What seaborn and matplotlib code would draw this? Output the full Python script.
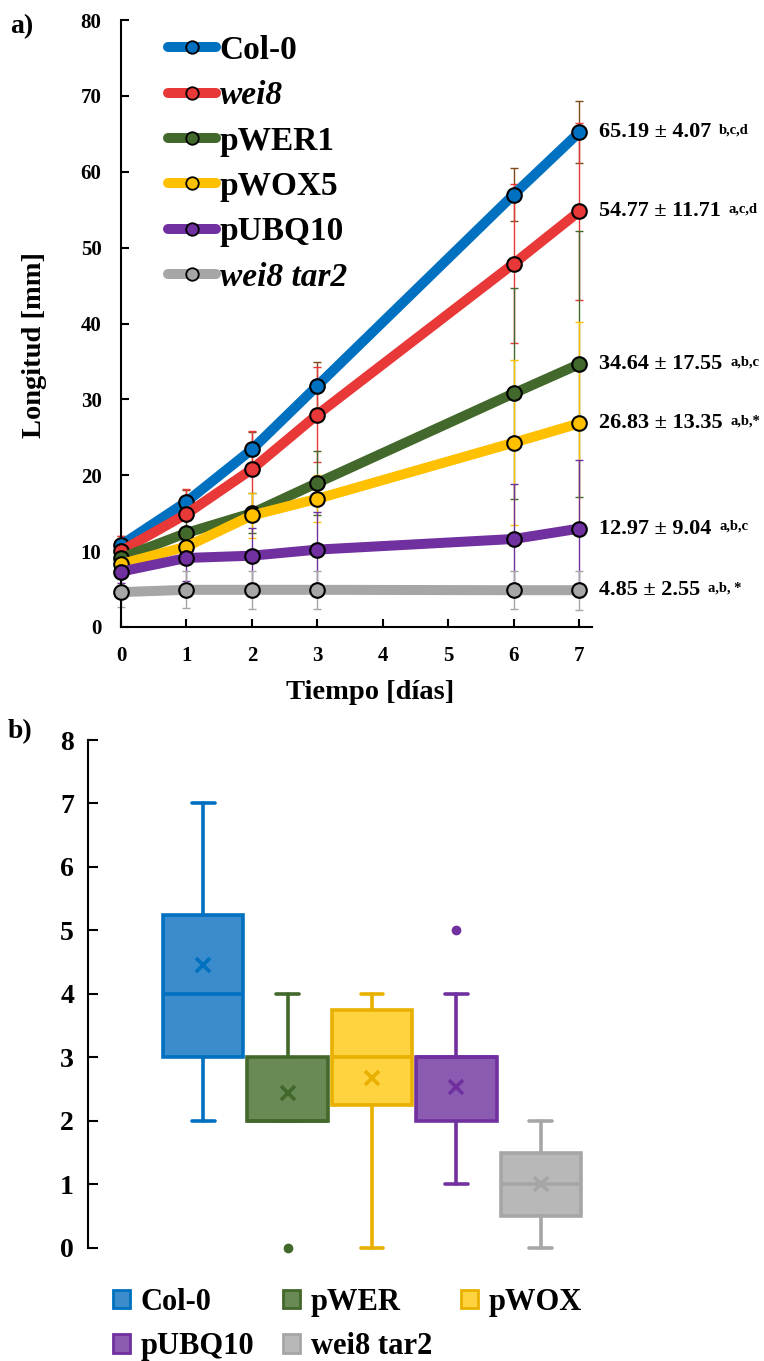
import matplotlib
matplotlib.use("Agg")
import matplotlib.pyplot as plt
from matplotlib.lines import Line2D
from matplotlib.patches import Patch
import seaborn as sns
import numpy as np

# ---- growth curves (mean ± SD of root length, mm) ----
days = [0, 1, 2, 3, 6, 7]
genotypes = ["Col-0", "wei8", "pWER1", "pWOX5", "pUBQ10", "wei8 tar2"]
col0_mean = [10.8, 16.5, 23.4, 31.8, 57.0, 65.19]
col0_sd = [1.2, 1.6, 2.3, 3.1, 3.5, 4.07]
wei8_mean = [10.0, 14.9, 20.8, 28.0, 47.9, 54.77]
wei8_sd = [2.0, 3.3, 5.0, 6.3, 10.5, 11.71]
pwer_mean = [9.1, 12.4, 15.0, 19.0, 30.8, 34.64]
pwer_sd = [1.3, 1.8, 2.6, 4.2, 13.9, 17.55]
pwox_mean = [8.3, 10.6, 14.7, 16.9, 24.3, 26.83]
pwox_sd = [1.2, 1.6, 3.0, 3.1, 10.9, 13.35]
pubq_mean = [7.3, 9.1, 9.4, 10.2, 11.6, 12.97]
pubq_sd = [1.5, 3.0, 3.6, 4.9, 7.3, 9.04]
tar2_mean = [4.6, 4.9, 4.9, 4.9, 4.85, 4.85]
tar2_sd = [1.9, 2.45, 2.5, 2.5, 2.5, 2.55]
signif = ["b,c,d", "a,c,d", "a,b,c", "a,b,*", "a,b,c", "a,b, *"]

# ---- box plot summary (lateral roots per seedling) ----
box_labels = ["Col-0", "pWER", "pWOX", "pUBQ10", "wei8 tar2"]
box_whislo = [2, 2, 0, 1, 0]
box_q1 = [3, 2, 2.25, 2, 0.5]
box_med = [4, 2, 3, 3, 1]
box_q3 = [5.25, 3, 3.75, 3, 1.5]
box_whishi = [7, 4, 4, 4, 2]
box_mean = [4.45, 2.43, 2.67, 2.53, 1.0]
box_fliers = [[], [0], [], [5], []]

means = [col0_mean, wei8_mean, pwer_mean, pwox_mean, pubq_mean, tar2_mean]
sds = [col0_sd, wei8_sd, pwer_sd, pwox_sd, pubq_sd, tar2_sd]
line_colors = ["#0070C0", "#E83838", "#43682B", "#FFC000", "#7030A0", "#A6A6A6"]
err_colors = ["#7F4A1A", "#E83838", "#43682B", "#FFC000", "#7030A0", "#A6A6A6"]
box_face = ["#3A8CCD", "#6A8A55", "#FFD23F", "#8B5BB1", "#B8B8B8"]
box_edge = ["#0070C0", "#43682B", "#E8B000", "#7030A0", "#A6A6A6"]

sns.set_theme(style="white")
plt.rcParams["font.family"] = ["Liberation Serif", "DejaVu Serif"]
plt.rcParams["font.weight"] = "bold"
plt.rcParams["axes.labelweight"] = "bold"
plt.rcParams["text.color"] = "black"
plt.rcParams["axes.labelcolor"] = "black"
plt.rcParams["xtick.color"] = "black"
plt.rcParams["ytick.color"] = "black"

W, H = 764, 1361
fig = plt.figure(figsize=(W / 100, H / 100), dpi=100)
fig.patch.set_facecolor("white")

# ================= a) growth curves =================
ax1 = fig.add_axes([121 / W, 1 - 627 / H, (591.7 - 121) / W, (627 - 20) / H])
for m, s, ec in zip(means, sds, err_colors):
    ax1.errorbar(days, m, yerr=s, fmt="none", ecolor=ec, elinewidth=1.0,
                 capsize=2.6, capthick=1.0, zorder=1, clip_on=False)
for k, (m, c) in enumerate(zip(means, line_colors)):
    sns.lineplot(x=days, y=m, ax=ax1, color=c, linewidth=7.2, marker="o",
                 markersize=10.5, markerfacecolor=c, markeredgecolor="black",
                 markeredgewidth=1.5, clip_on=False, zorder=3 + k,
                 solid_capstyle="butt", legend=False)

ax1.set_xlim(0, 7.19)
ax1.set_ylim(0, 80)
ax1.set_xticks(range(8))
ax1.set_yticks(range(0, 81, 10))
for sp in ["top", "right"]:
    ax1.spines[sp].set_visible(False)
for sp in ["left", "bottom"]:
    ax1.spines[sp].set_color("black")
    ax1.spines[sp].set_linewidth(1.5)
ax1.tick_params(axis="both", direction="in", length=6, width=1.5,
                colors="black", labelsize=15)
ax1.tick_params(axis="x", pad=14, bottom=True)
ax1.tick_params(axis="y", pad=14, left=True)
for lab in ax1.get_xticklabels() + ax1.get_yticklabels():
    lab.set_fontweight("bold")
ax1.set_xlabel("Tiempo [días]", fontsize=20.5, fontweight="bold", color="black")
ax1.set_ylabel("Longitud [mm]", fontsize=20.5, fontweight="bold", color="black")
ax1.xaxis.set_label_coords(0.529, -0.087)
ax1.yaxis.set_label_coords(-0.158, 0.465)

# value labels at the last time point
for m, s, sup in zip(means, sds, signif):
    t = ax1.annotate(f"{m[-1]:.2f} ± {s[-1]:.2f}", xy=(days[-1], m[-1]),
                     xytext=(14.5, 0), textcoords="offset points",
                     ha="left", va="center", fontsize=16, fontweight="bold",
                     color="black", annotation_clip=False)
    ax1.annotate(sup, xy=(1, 1), xycoords=t, xytext=(5.5, -1),
                 textcoords="offset points", ha="left", va="top",
                 fontsize=10.5, fontweight="bold", color="black",
                 annotation_clip=False)

handles = [Line2D([0], [0], color=c, lw=7.2, marker="o", markersize=9,
                  markerfacecolor=c, markeredgecolor="black",
                  markeredgewidth=1.3, solid_capstyle="round")
           for c in line_colors]
leg1 = ax1.legend(handles, genotypes, loc="upper left",
                  bbox_to_anchor=(168 / W, 1 - 35 / H),
                  bbox_transform=fig.transFigure, frameon=False,
                  prop={"family": "Liberation Serif", "weight": "bold", "size": 24},
                  handlelength=1.45, handletextpad=0.1, labelspacing=0.43,
                  borderpad=0, borderaxespad=0, numpoints=1)
for i, txt in enumerate(leg1.get_texts()):
    txt.set_color("black")
    if i in (1, 5):
        txt.set_fontstyle("italic")

# ================= b) box plot =================
ax2 = fig.add_axes([88 / W, 1 - 1247.7 / H, 568 / W, (1247.7 - 740) / H])
stats = []
for i in range(len(box_labels)):
    stats.append(dict(label=box_labels[i], whislo=box_whislo[i], q1=box_q1[i],
                      med=box_med[i], q3=box_q3[i], whishi=box_whishi[i],
                      mean=box_mean[i], fliers=np.array(box_fliers[i])))
bp = ax2.bxp(stats, positions=range(len(box_labels)), widths=0.95,
             capwidths=0.27, patch_artist=True, showmeans=True,
             showfliers=True)
for i in range(len(box_labels)):
    fc, ec = box_face[i], box_edge[i]
    bp["boxes"][i].set(facecolor=fc, edgecolor=ec, linewidth=2.6, clip_on=False)
    for art in (bp["whiskers"][2 * i], bp["whiskers"][2 * i + 1],
                bp["caps"][2 * i], bp["caps"][2 * i + 1]):
        art.set(color=ec, linewidth=2.6, clip_on=False)
    bp["medians"][i].set(color=ec, linewidth=2.6)
    bp["means"][i].set(marker="x", markersize=10, markeredgecolor=ec,
                       markeredgewidth=2.6, markerfacecolor=ec)
    bp["fliers"][i].set(marker="o", markersize=6, markerfacecolor=ec,
                        markeredgecolor=ec, clip_on=False)

ax2.set_xlim(-1.363, 5.363)
ax2.set_ylim(0, 8)
ax2.set_yticks(range(0, 9))
ax2.set_xticks([])
for sp in ["top", "right", "bottom"]:
    ax2.spines[sp].set_visible(False)
ax2.spines["left"].set_color("black")
ax2.spines["left"].set_linewidth(1.5)
ax2.tick_params(axis="y", direction="in", length=7, width=1.5, colors="black",
                labelsize=20, pad=10, left=True)
for lab in ax2.get_yticklabels():
    lab.set_fontweight("bold")

# legend laid out row by row: Col-0, pWER, pWOX / pUBQ10, wei8 tar2
order = [0, 3, 1, 4, 2]
patches = [Patch(facecolor=box_face[i], edgecolor=box_edge[i], linewidth=2.0)
           for i in order]
leg2 = fig.legend(patches, [box_labels[i] for i in order], ncol=3,
                  loc="upper left", bbox_to_anchor=(113 / W, 1 - 1288 / H),
                  frameon=False,
                  prop={"family": "Liberation Serif", "weight": "bold", "size": 22},
                  handlelength=0.55, handleheight=0.55, handletextpad=0.35,
                  columnspacing=0.95, labelspacing=0.5, borderpad=0,
                  borderaxespad=0)
for txt in leg2.get_texts():
    txt.set_color("black")

# panel letters
fig.text(10 / W, 1 - 27 / H, "a)", fontsize=20, fontweight="bold",
         ha="left", va="center", color="black")
fig.text(8 / W, 1 - 732 / H, "b)", fontsize=20, fontweight="bold",
         ha="left", va="center", color="black")

fig.savefig("out.png", dpi=100, facecolor="white")
